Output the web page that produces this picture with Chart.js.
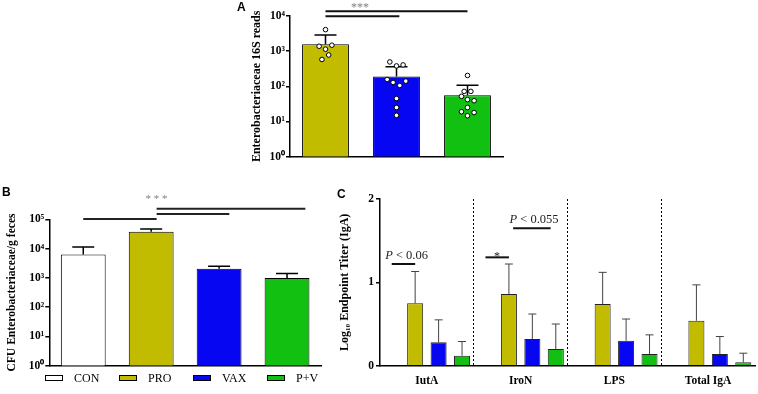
<!DOCTYPE html>
<html>
<head>
<meta charset="utf-8">
<script src="https://cdn.jsdelivr.net/npm/chart.js@4.4.0/dist/chart.umd.min.js"></script>
<style>
  body { margin: 0; background: #fff; }
  #wrap { position: relative; width: 758px; height: 394px; overflow: hidden; }
  canvas { position: absolute; }
  .panel { position: absolute; font: bold 12px 'Liberation Sans', Arial, sans-serif; color: #000; }
  #legendB { position: absolute; left: 45px; top: 371px; display: flex; font: 12px 'Liberation Serif', serif; line-height: 14px; }
  #legendB .item { width: 74px; display: flex; align-items: center; }
  #legendB .box { width: 16px; height: 4px; border: 1px solid #000; margin-right: 11px; }
</style>
</head>
<body>
<div id="wrap">
  <canvas id="chartA" width="290" height="175" style="left:230px;top:0"></canvas>
  <canvas id="chartB" width="330" height="185" style="left:0;top:190px"></canvas>
  <canvas id="chartC" width="428" height="204" style="left:330px;top:190px"></canvas>
  <div class="panel" style="left:237px;top:0px">A</div>
  <div class="panel" style="left:2px;top:185px">B</div>
  <div class="panel" style="left:337px;top:187px">C</div>
  <div id="legendB"></div>
</div>
<script>
const serif = "'Liberation Serif', 'Times New Roman', serif";

// panel A - 16S reads
const aGroups = ['PRO', 'VAX', 'P+V'];
const aMeans = [1575, 190, 56];
const aErrTop = [2900, 360, 108];
const aProPts = [4100, 1380, 1140, 1480, 780, 580];
const aVaxPts = [495, 381, 407, 157, 129, 106, 141, 45, 25, 15];
const aPvPts = [204, 72, 72, 52, 39, 42, 25, 19, 18, 14.6];
const aProJit = [0, -0.09, 0, 0.09, 0.045, -0.05];
const aVaxJit = [-0.094, 0, 0.093, -0.132, -0.048, 0.046, 0.131, 0, 0, 0];
const aPvJit = [0, -0.047, 0.047, -0.085, 0.093, 0, 0, -0.085, 0.093, 0];
const aTicks = [1, 10, 100, 1000, 10000];
const aTickLabels = ['10⁰', '10¹', '10²', '10³', '10⁴'];

// panel B - CFU
const bGroups = ['CON', 'PRO', 'VAX', 'P+V'];
const bMeans = [6300, 37500, 2050, 990];
const bErrTop = [11300, 47000, 2500, 1400];
const bTicks = [1, 10, 100, 1000, 10000, 100000];
const bTickLabels = ['10⁰', '10¹', '10²', '10³', '10⁴', '10⁵'];

// panel C - IgA titers
const cGroups = ['IutA', 'IroN', 'LPS', 'Total IgA'];
const cCon = [0, 0, 0, 0];
const cPro = [0.75, 0.86, 0.74, 0.54];
const cVax = [0.28, 0.32, 0.30, 0.14];
const cPv = [0.12, 0.20, 0.14, 0.04];
const cProErr = [1.13, 1.22, 1.12, 0.97];
const cVaxErr = [0.55, 0.62, 0.56, 0.35];
const cPvErr = [0.29, 0.50, 0.37, 0.15];
const cTicks = [0, 1, 2];

const colors = { 'CON': '#ffffff', 'PRO': '#c1bc00', 'VAX': '#0606f2', 'P+V': '#12c012' };

// error bars drawn from the bar top up to errTop
function errorBars(color, width, cap) {
  return {
    id: 'errorBars',
    beforeDatasetsDraw(chart) {
      const ctx = chart.ctx, y = chart.scales.y;
      chart.data.datasets.forEach((ds, i) => {
        if (!ds.errTop) return;
        chart.getDatasetMeta(i).data.forEach((bar, j) => {
          const top = y.getPixelForValue(ds.errTop[j]);
          ctx.save();
          ctx.strokeStyle = color;
          ctx.lineWidth = width;
          ctx.beginPath();
          ctx.moveTo(bar.x, bar.y);
          ctx.lineTo(bar.x, top);
          ctx.moveTo(bar.x - cap, top);
          ctx.lineTo(bar.x + cap, top);
          ctx.stroke();
          ctx.restore();
        });
      });
    }
  };
}

// significance lines + labels, placed in data units
function sigMarks(lines, texts) {
  return {
    id: 'sigMarks',
    afterDraw(chart) {
      const ctx = chart.ctx, x = chart.scales.x, y = chart.scales.y;
      ctx.save();
      lines.forEach(l => {
        const py = y.getPixelForValue(l.y);
        ctx.strokeStyle = l.color;
        ctx.lineWidth = 2;
        ctx.beginPath();
        ctx.moveTo(x.getPixelForValue(l.from), py);
        ctx.lineTo(x.getPixelForValue(l.to), py);
        ctx.stroke();
      });
      texts.forEach(t => {
        ctx.textBaseline = 'alphabetic';
        ctx.textAlign = 'left';
        ctx.fillStyle = t.color;
        let w = 0;
        t.parts.forEach(p => { ctx.font = p.font; w += ctx.measureText(p.text).width; });
        let px = x.getPixelForValue(t.x) - w / 2;
        const py = y.getPixelForValue(t.y);
        t.parts.forEach(p => {
          ctx.font = p.font;
          ctx.fillText(p.text, px, py);
          px += ctx.measureText(p.text).width;
        });
      });
      ctx.restore();
    }
  };
}

function yAxis(opts) {
  return {
    type: opts.type,
    min: opts.min,
    max: opts.max,
    afterFit: s => { s.width = opts.width; },
    afterBuildTicks: s => { s.ticks = opts.ticks.map(v => ({ value: v })); },
    ticks: {
      callback: (v, i) => opts.labels[i],
      color: '#000',
      padding: opts.pad,
      font: { family: serif, size: 11.5, weight: 'bold' }
    },
    grid: { display: true, drawOnChartArea: false, drawTicks: true, tickLength: 4, color: '#000', lineWidth: 1.5 },
    border: { display: true, color: '#000', width: 1.5 },
    title: {
      display: true,
      text: opts.title,
      color: '#000',
      padding: { top: 4, bottom: 4 },
      font: { family: serif, size: opts.titleSize, weight: 'bold' }
    }
  };
}

const baseOpts = {
  responsive: false,
  animation: false,
  devicePixelRatio: 1,
  plugins: { legend: { display: false }, tooltip: { enabled: false } }
};

// ---- A ----
const aPoints = [aProPts, aVaxPts, aPvPts].flatMap((vals, g) => {
  const jit = [aProJit, aVaxJit, aPvJit][g];
  return vals.map((v, k) => ({ x: g + jit[k], y: v }));
});

new Chart(document.getElementById('chartA'), {
  type: 'bar',
  data: {
    labels: aGroups,
    datasets: [
      {
        type: 'scatter', xAxisID: 'xj', data: aPoints, order: 0,
        pointRadius: 2.3, pointBorderWidth: 1, pointBackgroundColor: '#fff', pointBorderColor: '#000'
      },
      {
        data: aMeans, errTop: aErrTop, order: 1, grouped: false,
        backgroundColor: aGroups.map(g => colors[g]), borderColor: '#000', borderWidth: 1,
        barPercentage: 0.66, categoryPercentage: 1
      }
    ]
  },
  options: {
    ...baseOpts,
    layout: { padding: { left: 16, top: 16, right: 17, bottom: 0 } },
    scales: {
      x: {
        afterFit: s => { s.height = 18.3; },
        ticks: { display: false },
        grid: { display: false },
        border: { display: true, color: '#000', width: 1.5 }
      },
      xj: { type: 'linear', min: -0.5, max: 2.5, offset: false, display: false },
      y: yAxis({ type: 'logarithmic', min: 1, max: 10000, width: 44, pad: 1, titleSize: 12,
        ticks: aTicks, labels: aTickLabels, title: 'Enterobacteriaceae 16S reads' })
    }
  },
  plugins: [
    errorBars('#000', 1.5, 11),
    sigMarks(
      [{ from: 0, to: 2, y: 13600, color: '#111' }, { from: 0, to: 1.04, y: 9800, color: '#111' }],
      [{ x: 0.486, y: 14000, color: '#808080', parts: [{ text: '***', font: `12px ${serif}` }] }]
    )
  ]
});

// ---- B ----
new Chart(document.getElementById('chartB'), {
  type: 'bar',
  data: {
    labels: bGroups,
    datasets: [{
      data: bMeans, errTop: bErrTop,
      backgroundColor: bGroups.map(g => colors[g]), borderColor: '#000', borderWidth: 1,
      barPercentage: 0.66, categoryPercentage: 1
    }]
  },
  options: {
    ...baseOpts,
    layout: { padding: { left: 1, top: 29.3, right: 9, bottom: 0 } },
    scales: {
      x: {
        afterFit: s => { s.height = 9.3; },
        ticks: { display: false },
        grid: { display: false },
        border: { display: true, color: '#000', width: 1.5 }
      },
      y: yAxis({ type: 'logarithmic', min: 1, max: 100000, width: 48.3, pad: 1, titleSize: 11.6,
        ticks: bTicks, labels: bTickLabels, title: 'CFU Enterobacteriaceae/g feces' })
    }
  },
  plugins: [
    errorBars('#000', 1.5, 11),
    sigMarks(
      [
        { from: 0, to: 1.08, y: 102000, color: '#222' },
        { from: 1.08, to: 3.27, y: 230000, color: '#222' },
        { from: 1.08, to: 2.15, y: 152000, color: '#222' }
      ],
      [{ x: 1.08, y: 390000, color: '#808080', parts: [{ text: '* * *', font: `11px ${serif}` }] }]
    )
  ]
});

const legendB = document.getElementById('legendB');
bGroups.forEach(g => {
  legendB.innerHTML += `<div class="item"><span class="box" style="background:${colors[g]}"></span>${g}</div>`;
});

// ---- C ----
const cSeries = [['CON', cCon, null], ['PRO', cPro, cProErr], ['VAX', cVax, cVaxErr], ['P+V', cPv, cPvErr]];
const pFont = `italic 12.5px ${serif}`, rFont = `12.5px ${serif}`;

new Chart(document.getElementById('chartC'), {
  type: 'bar',
  data: {
    labels: cGroups,
    datasets: cSeries.map(([name, vals, err]) => ({
      label: name, data: vals, errTop: err,
      backgroundColor: colors[name], borderColor: '#222', borderWidth: 1,
      barPercentage: 0.684, categoryPercentage: 1
    }))
  },
  options: {
    ...baseOpts,
    layout: { padding: { left: 3.6, top: 9, right: 3, bottom: 0 } },
    scales: {
      x: {
        afterFit: s => { s.height = 28.3; },
        ticks: { color: '#000', padding: 8, font: { family: serif, size: 11.5, weight: 'bold' } },
        grid: {
          display: true, drawOnChartArea: true, drawTicks: false, offset: true, lineWidth: 1,
          color: c => (c.index > 0 && c.index < cGroups.length) ? '#000' : 'rgba(0,0,0,0)'
        },
        border: { display: true, color: '#000', width: 1.5, dash: [2, 2] }
      },
      y: yAxis({ type: 'linear', min: 0, max: 2, width: 46.4, pad: 2, titleSize: 12,
        ticks: cTicks, labels: cTicks.map(String), title: 'Log₁₀ Endpoint Titer (IgA)' })
    }
  },
  plugins: [
    errorBars('#444', 1, 4),
    sigMarks(
      [
        { from: -0.375, to: -0.125, y: 1.22, color: '#111' },
        { from: 0.625, to: 0.875, y: 1.30, color: '#111' },
        { from: 0.92, to: 1.32, y: 1.65, color: '#111' }
      ],
      [
        { x: -0.217, y: 1.28, color: '#222', parts: [{ text: 'P', font: pFont }, { text: ' < 0.06', font: rFont }] },
        { x: 0.748, y: 1.27, color: '#222', parts: [{ text: '*', font: `12px ${serif}` }] },
        { x: 1.143, y: 1.71, color: '#222', parts: [{ text: 'P', font: pFont }, { text: ' < 0.055', font: rFont }] }
      ]
    )
  ]
});
</script>
</body>
</html>
